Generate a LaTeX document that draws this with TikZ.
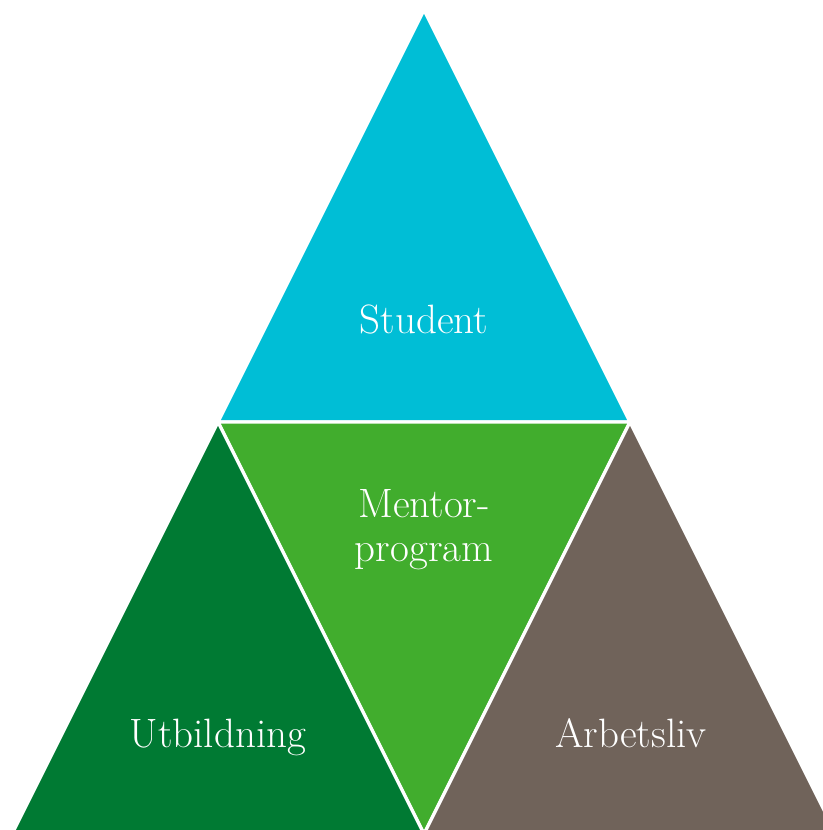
\documentclass[tikz,border=0pt]{standalone}
\usepackage{tikz}
\usetikzlibrary{calc,positioning}
\definecolor{studentblue}{HTML}{00BED6}
\definecolor{mentorgreen}{HTML}{41AD2D}
\definecolor{utbgreen}{HTML}{007A33}
\definecolor{arbbrown}{HTML}{70635A}
\tikzset{
  piece/.style={draw=white, line width=1.6pt, line join=miter},
  label/.style={text=white, font=\fontsize{20.5}{22}\selectfont, align=center}
}
\begin{document}
\begin{tikzpicture}[x=0.5pt,y=-0.5pt]
  \useasboundingbox (0,0) rectangle (823,830);
  \clip (0,0) rectangle (823,830);
  \coordinate(T) at (424,10);
  \coordinate(L) at (12,834);
  \coordinate(R) at (836,834);
  \coordinate(ML) at ($(T)!0.5!(L)$);
  \coordinate(MR) at ($(T)!0.5!(R)$);
  \coordinate(MB) at ($(L)!0.5!(R)$);
  \draw[piece, fill=studentblue](T)--(ML)--(MR)--cycle;
  \draw[piece, fill=mentorgreen](ML)--(MR)--(MB)--cycle;
  \draw[piece, fill=utbgreen](ML)--(L)--(MB)--cycle;
  \draw[piece, fill=arbbrown](MR)--(MB)--(R)--cycle;
  \node[label, anchor=base](student) at (424,333){Student};
  \node[label](mentor) at (424,530){Mentor-\\program};
  \node[label, anchor=base](utb) at (218,747){Utbildning};
  \node[label, anchor=base](arb) at (631,747){Arbetsliv};
\end{tikzpicture}
\end{document}
